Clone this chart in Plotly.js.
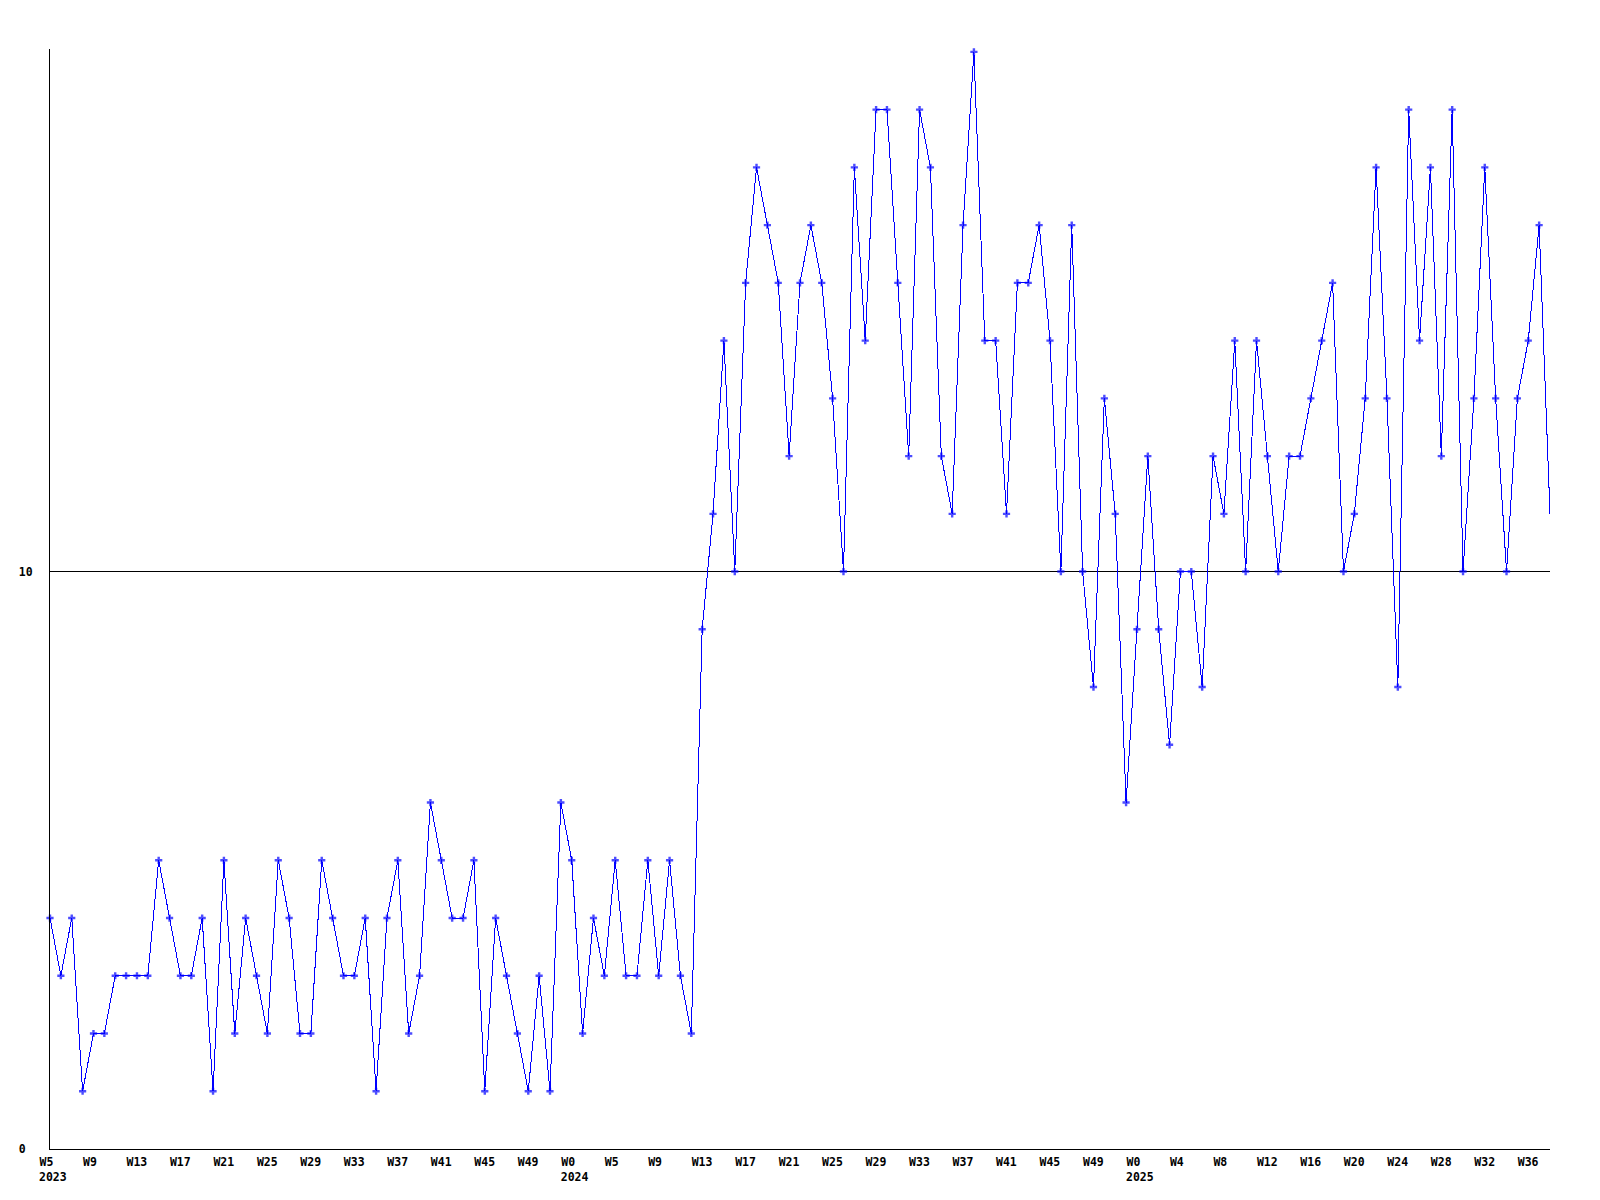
<!DOCTYPE html>
<html><head><meta charset="utf-8">
<script src="https://cdn.plot.ly/plotly-3.0.1.min.js"></script>
<style>
html,body{margin:0;padding:0;background:#fff;}
#chart{width:1600px;height:1200px;}
.scatterlayer path.js-line{shape-rendering:crispEdges;}
</style></head><body><div id="chart"></div>
<script>
// Weekly values, 2023 W5 .. 2025 W38
const values = [
  4,3,4,1,2,2,3,3,3,3,
  5,4,3,3,4,1,5,2,4,3,
  2,5,4,2,2,5,4,3,3,4,
  1,4,5,2,3,6,5,4,4,5,
  1,4,3,2,1,3,1,6,5,2,
  4,3,5,3,3,5,3,5,3,2,
  9,11,14,10,15,17,16,15,12,15,
  16,15,13,10,17,14,18,18,15,12,
  18,17,12,11,16,19,14,14,11,15,
  15,16,14,10,16,10,8,13,11,6,
  9,12,9,7,10,10,8,12,11,14,
  10,14,12,10,12,12,13,14,15,10,
  11,13,17,13,8,18,14,17,12,18,
  10,13,17,13,10,13,14,16,11
];
// x tick labels, one every 4 weeks
const weekTickLabels = ['W5','W9','W13','W17','W21','W25','W29','W33','W37','W41','W45','W49',
  'W0','W5','W9','W13','W17','W21','W25','W29','W33','W37','W41','W45','W49',
  'W0','W4','W8','W12','W16','W20','W24','W28','W32','W36'];
const yearTickLabels = ['2023','2024','2025'];
const yearTickIndex = [0,48,100];
const yTickValues = [0,10];
const yTickLabels = ['0\u00a0','10'];

const xIdx = values.map((v,i)=>i);
const weekTickIdx = weekTickLabels.map((t,i)=>i*4);
const markerSizes = values.map((v,i)=> i===values.length-1 ? 0 : 6);
const lastIdx = values.length-1;

const tickFont = {family:'"DejaVu Sans Mono", "Liberation Mono", monospace', size:11.5, color:'#000', weight:'bold'};

const traces = [
  {x:xIdx, y:values, type:'scatter', mode:'lines+markers',
   line:{color:'#0000ff', width:1},
   marker:{symbol:'cross', size:markerSizes, color:'#0000ff', line:{width:0}},
   cliponaxis:false, hoverinfo:'skip', showlegend:false},
  {x:[], y:[], xaxis:'x2', yaxis:'y', type:'scatter', mode:'markers', showlegend:false, hoverinfo:'skip'}
];

const layout = {
  width:1600, height:1200,
  margin:{l:50, r:50, t:49, b:51},
  paper_bgcolor:'#fff', plot_bgcolor:'#fff',
  showlegend:false,
  xaxis:{range:[0,lastIdx], showgrid:false, zeroline:false, showline:true, linecolor:'#000', linewidth:1,
    ticks:'', tickmode:'array', tickvals:weekTickIdx, ticktext:weekTickLabels,
    ticklabelposition:'outside right', ticklabelshift:-11, ticklabelstandoff:2, tickfont:tickFont},
  xaxis2:{overlaying:'x', anchor:'y', side:'bottom', range:[0,lastIdx], showgrid:false, zeroline:false, showline:false,
    ticks:'', tickmode:'array', tickvals:yearTickIndex, ticktext:yearTickLabels,
    ticklabelposition:'outside right', ticklabelshift:-11, ticklabelstandoff:19, tickfont:tickFont},
  yaxis:{range:[0,19.05], showgrid:true, gridcolor:'#000', gridwidth:1, zeroline:false, showline:true,
    linecolor:'#000', linewidth:1, ticks:'', tickmode:'array', tickvals:yTickValues, ticktext:yTickLabels,
    ticklabelstandoff:14, tickfont:tickFont}
};

Plotly.newPlot('chart', traces, layout, {staticPlot:true});
</script></body></html>
